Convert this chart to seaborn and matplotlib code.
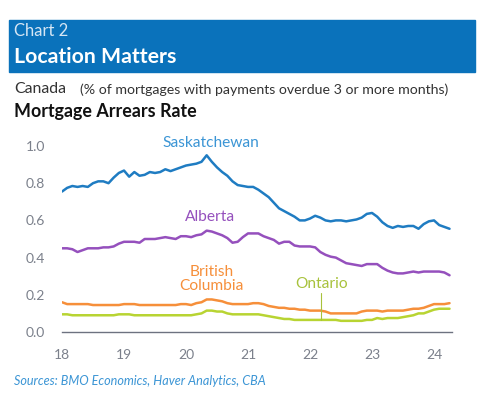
import numpy as np
import pandas as pd
import matplotlib
matplotlib.use("Agg")
import matplotlib.pyplot as plt
from matplotlib.patches import Rectangle
import seaborn as sns

# ---- data (monthly, Jan 2018 - Apr 2024, % of mortgages 90+ days overdue) ----
months = pd.date_range("2018-01-01", "2024-04-01", freq="MS")

saskatchewan = [
    0.755, 0.775, 0.785, 0.78, 0.785, 0.78, 0.80, 0.81, 0.81, 0.80, 0.83, 0.855,
    0.868, 0.835, 0.86, 0.84, 0.845, 0.86, 0.855, 0.86, 0.875, 0.865, 0.875, 0.885,
    0.895, 0.90, 0.905, 0.915, 0.95, 0.915, 0.885, 0.86, 0.84, 0.81, 0.79, 0.785,
    0.78, 0.78, 0.765, 0.745, 0.725, 0.695, 0.665, 0.65, 0.635, 0.62, 0.60, 0.60,
    0.61, 0.625, 0.615, 0.60, 0.595, 0.60, 0.60, 0.595, 0.60, 0.605, 0.615, 0.635,
    0.64, 0.62, 0.59, 0.57, 0.56, 0.57, 0.565, 0.57, 0.57, 0.555, 0.58, 0.595,
    0.60, 0.575, 0.565, 0.555,
]
alberta = [
    0.45, 0.45, 0.445, 0.43, 0.44, 0.45, 0.45, 0.45, 0.455, 0.455, 0.46, 0.475,
    0.485, 0.485, 0.485, 0.48, 0.50, 0.50, 0.50, 0.505, 0.51, 0.505, 0.50, 0.515,
    0.515, 0.51, 0.52, 0.525, 0.545, 0.54, 0.53, 0.52, 0.505, 0.48, 0.485, 0.51,
    0.53, 0.53, 0.53, 0.515, 0.505, 0.495, 0.475, 0.485, 0.485, 0.465, 0.46, 0.46,
    0.46, 0.455, 0.43, 0.415, 0.405, 0.40, 0.385, 0.37, 0.365, 0.36, 0.355, 0.365,
    0.365, 0.365, 0.345, 0.33, 0.32, 0.315, 0.315, 0.32, 0.325, 0.32, 0.325, 0.325,
    0.325, 0.325, 0.32, 0.305,
]
british_columbia = [
    0.16, 0.15, 0.15, 0.15, 0.15, 0.15, 0.145, 0.145, 0.145, 0.145, 0.145, 0.145,
    0.15, 0.15, 0.15, 0.145, 0.145, 0.145, 0.145, 0.145, 0.145, 0.145, 0.145, 0.15,
    0.15, 0.145, 0.155, 0.16, 0.175, 0.175, 0.17, 0.165, 0.155, 0.15, 0.15, 0.15,
    0.15, 0.155, 0.155, 0.15, 0.14, 0.135, 0.13, 0.13, 0.125, 0.125, 0.12, 0.12,
    0.115, 0.115, 0.115, 0.11, 0.10, 0.10, 0.10, 0.10, 0.10, 0.10, 0.11, 0.115,
    0.115, 0.115, 0.11, 0.115, 0.115, 0.115, 0.115, 0.12, 0.125, 0.125, 0.13, 0.14,
    0.15, 0.15, 0.15, 0.155,
]
ontario = [
    0.095, 0.095, 0.09, 0.09, 0.09, 0.09, 0.09, 0.09, 0.09, 0.09, 0.09, 0.095,
    0.095, 0.095, 0.09, 0.09, 0.09, 0.09, 0.09, 0.09, 0.09, 0.09, 0.09, 0.09,
    0.09, 0.09, 0.095, 0.10, 0.115, 0.115, 0.11, 0.11, 0.10, 0.095, 0.095, 0.095,
    0.095, 0.095, 0.095, 0.09, 0.085, 0.08, 0.075, 0.07, 0.07, 0.065, 0.065, 0.065,
    0.065, 0.065, 0.065, 0.065, 0.065, 0.065, 0.06, 0.06, 0.06, 0.06, 0.06, 0.065,
    0.065, 0.075, 0.07, 0.075, 0.075, 0.075, 0.08, 0.085, 0.09, 0.10, 0.10, 0.11,
    0.12, 0.125, 0.125, 0.125,
]

provinces = ["Saskatchewan", "Alberta", "British Columbia", "Ontario"]
line_colors = ["#1f7cc2", "#9550bd", "#f68f3a", "#b8d432"]
label_colors = ["#3b95d5", "#9550bd", "#f68f3a", "#a8c23c"]
x_ticks = [18, 19, 20, 21, 22, 23, 24]
y_ticks = [0.0, 0.2, 0.4, 0.6, 0.8, 1.0]

# decimal year on a "18, 19, ..." scale
year_frac = (months.year - 2000) + (months.month - 1) / 12

df = pd.DataFrame({
    "x": np.tile(year_frac, 4),
    "rate": saskatchewan + alberta + british_columbia + ontario,
    "province": np.repeat(provinces, len(months)),
})

sns.set_theme(style="white")
plt.rcParams["font.family"] = ["Lato", "DejaVu Sans"]

fig = plt.figure(figsize=(4.85, 4.13), dpi=100)
ax = fig.add_axes([62 / 485, 1 - 332 / 413, 390 / 485, (332 - 136.7) / 413])

sns.lineplot(data=df, x="x", y="rate", hue="province", hue_order=provinces,
             palette=dict(zip(provinces, line_colors)), linewidth=1.8,
             legend=False, ax=ax)

ax.set_xlim(18, 24.29)
ax.set_ylim(0, 1.05)
ax.set_xticks(x_ticks)
ax.set_xticklabels([str(t) for t in x_ticks])
ax.set_yticks(y_ticks)
ax.set_yticklabels([f"{t:.1f}" for t in y_ticks])
ax.set_xlabel("")
ax.set_ylabel("")
for s in ["top", "right", "left"]:
    ax.spines[s].set_visible(False)
ax.spines["bottom"].set_color("#6d7280")
ax.spines["bottom"].set_linewidth(1.0)
ax.tick_params(axis="x", direction="in", length=5, width=1.0, color="#6d7280",
               pad=12, labelsize=10, labelcolor="#7b808b")
ax.tick_params(axis="y", length=0, pad=12, labelsize=10, labelcolor="#7b808b")
ax.grid(False)

# series labels
lab = dict(ha="center", va="center", fontsize=11.2)
ax.text(20.40, 1.016, "Saskatchewan", color=label_colors[0], **lab)
ax.text(20.39, 0.618, "Alberta", color=label_colors[1], **lab)
ax.text(20.41, 0.285, "British\nColumbia", color=label_colors[2], linespacing=0.95, **lab)
ax.text(22.19, 0.258, "Ontario", color=label_colors[3], **lab)
ax.plot([22.18, 22.18], [0.21, 0.065], color=label_colors[3], lw=0.8)

# header
fig.patches.append(Rectangle((9 / 485, 1 - 72 / 413), 466 / 485, 52 / 413,
                             transform=fig.transFigure, color="#0a72bb", zorder=0))
fig.text(14 / 485, 1 - 31 / 413, "Chart 2", color="#d6e6f4", fontsize=12, va="center")
fig.text(14 / 485, 1 - 57 / 413, "Location Matters", color="white", fontsize=15.3,
         fontweight="bold", va="center")

fig.text(14 / 485, 1 - 89 / 413, "Canada", color="#333333", fontsize=11.4, va="center")
fig.text(80 / 485, 1 - 89.5 / 413, "(% of mortgages with payments overdue 3 or more months)",
         color="#333333", fontsize=10.2, va="center")
fig.text(14 / 485, 1 - 112 / 413, "Mortgage Arrears Rate", color="#111111", fontsize=12.9,
         fontweight="bold", va="center")

fig.text(14 / 485, 1 - 381 / 413, "Sources: BMO Economics, Haver Analytics, CBA",
         color="#3b95d5", fontsize=9.1, style="italic", va="center")

fig.savefig("out.png", dpi=100)
